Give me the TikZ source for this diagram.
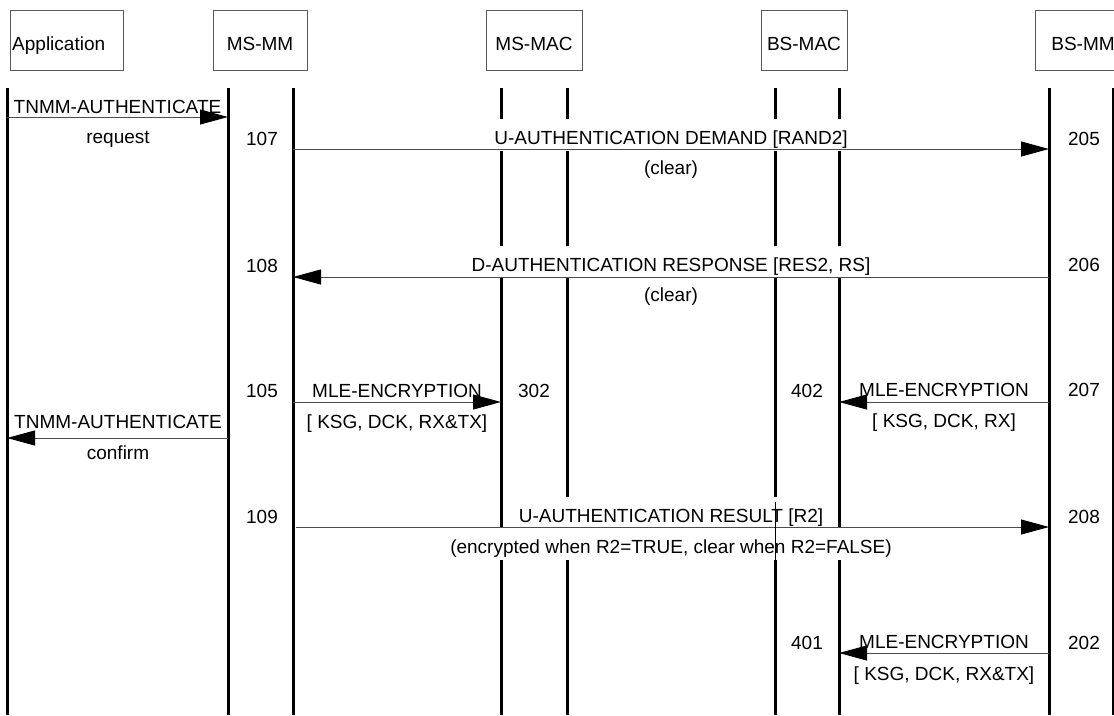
\documentclass[tikz,border=0pt]{standalone}
\usepackage{fontspec}
\setmainfont{Liberation Sans}
\usetikzlibrary{arrows.meta}
\begin{document}
\begin{tikzpicture}[x=1pt,y=-1pt,
  every node/.style={font=\fontsize{19}{22}\selectfont, inner sep=0pt},
  hbox/.style={draw=black!65, line width=0.9pt, minimum height=60pt},
  htext/.style={anchor=base},
  life/.style={line width=3pt, black},
  msg/.style={draw=black!70, line width=1pt, -{Triangle[length=28pt,width=15pt,black]}},
  lbl/.style={anchor=base, fill=white, text height=25pt, text depth=7pt, inner xsep=1.5pt, inner ysep=0pt},
  num/.style={anchor=base},
  thinline/.style={line width=0.6pt, black}
]
\useasboundingbox (0,0) rectangle (1114,715);

% header boxes
\node[hbox, minimum width=113pt] (happ) at (66.5,40) {};
\node[anchor=base west] (tapp) at (12,50) {Application};
\node[hbox, minimum width=94pt] (hmsmm) at (260,40) {};
\node[htext] (tmsmm) at (260,50) {MS-MM};
\node[hbox, minimum width=96pt] (hmsmac) at (534,40) {};
\node[htext] (tmsmac) at (534,50) {MS-MAC};
\node[hbox, minimum width=86pt] (hbsmac) at (804,40) {};
\node[htext] (tbsmac) at (804,50) {BS-MAC};
\node[hbox, minimum width=96pt] (hbsmm) at (1083,40) {};
\node[htext] (tbsmm) at (1083,50) {BS-MM};

% lifelines
\foreach \n/\x in {A/7,B/228,C/293,D/501,E/567,F/775,G/839,H/1049,I/1113}{
  \coordinate (\n t) at (\x,88);
  \coordinate (\n b) at (\x,715);
  \draw[life] (\n t) -- (\n b);
}

% labels
\node[lbl] (l1a) at (117.5,113) {TNMM-AUTHENTICATE};
\node[lbl] (l1b) at (118,143) {request};

\node[num] (n107) at (262,145) {107};
\node[lbl] (l2a) at (671,144) {U-AUTHENTICATION DEMAND [RAND2]};
\node[lbl] (l2b) at (671,174) {(clear)};
\node[num] (n205) at (1084,145) {205};

\node[num] (n108) at (262,272) {108};
\node[lbl] (l3a) at (671,271) {D-AUTHENTICATION RESPONSE [RES2, RS]};
\node[lbl] (l3b) at (671,301) {(clear)};
\node[num] (n206) at (1084,271) {206};

\node[num] (n105) at (262,397) {105};
\node[lbl] (l4a) at (397,397) {MLE-ENCRYPTION};
\node[lbl] (l4b) at (397,428) {[ KSG, DCK, RX\&TX]};
\node[num] (n302) at (534,397) {302};
\node[num] (n402) at (807,397) {402};
\node[lbl] (l4c) at (944,396) {MLE-ENCRYPTION};
\node[lbl] (l4d) at (944,427) {[ KSG, DCK, RX]};
\node[num] (n207) at (1084,396) {207};

\node[lbl] (l5a) at (118,428) {TNMM-AUTHENTICATE};
\node[lbl] (l5b) at (118,459) {confirm};

\node[num] (n109) at (262,523) {109};
\node[lbl] (l6a) at (671,522) {U-AUTHENTICATION RESULT [R2]};
\node[lbl] (l6b) at (671,553) {(encrypted when R2=TRUE, clear when R2=FALSE)};
\node[num] (n208) at (1084,523) {208};

\node[num] (n401) at (807,649) {401};
\node[lbl] (l7a) at (944,648) {MLE-ENCRYPTION};
\node[lbl] (l7b) at (944,680) {[ KSG, DCK, RX\&TX]};
\node[num] (n202) at (1084,649) {202};

% message end points
\coordinate (m1s) at (7,117);    \coordinate (m1e) at (228,117);
\coordinate (m2s) at (293,149);  \coordinate (m2e) at (1049,149);
\coordinate (m3s) at (1049,277); \coordinate (m3e) at (293,277);
\coordinate (m4s) at (293,402);  \coordinate (m4e) at (501,402);
\coordinate (m5s) at (1049,402); \coordinate (m5e) at (839,402);
\coordinate (m6s) at (228,438);  \coordinate (m6e) at (7,438);
\coordinate (m7s) at (296,527);  \coordinate (m7e) at (1049,527);
\coordinate (m8s) at (1049,653); \coordinate (m8e) at (839,653);

\draw[msg] (m1s) -- (m1e);
\draw[msg] (m2s) -- (m2e);
\draw[msg] (m3s) -- (m3e);
\draw[msg] (m4s) -- (m4e);
\draw[msg] (m5s) -- (m5e);
\draw[msg] (m6s) -- (m6e);
\draw[msg] (m7s) -- (m7e);
\draw[msg] (m8s) -- (m8e);

% thin line crossing the result labels
\coordinate (f1) at (775,502);
\coordinate (f2) at (775,560);
\draw[thinline] (f1) -- (f2);
\end{tikzpicture}
\end{document}
